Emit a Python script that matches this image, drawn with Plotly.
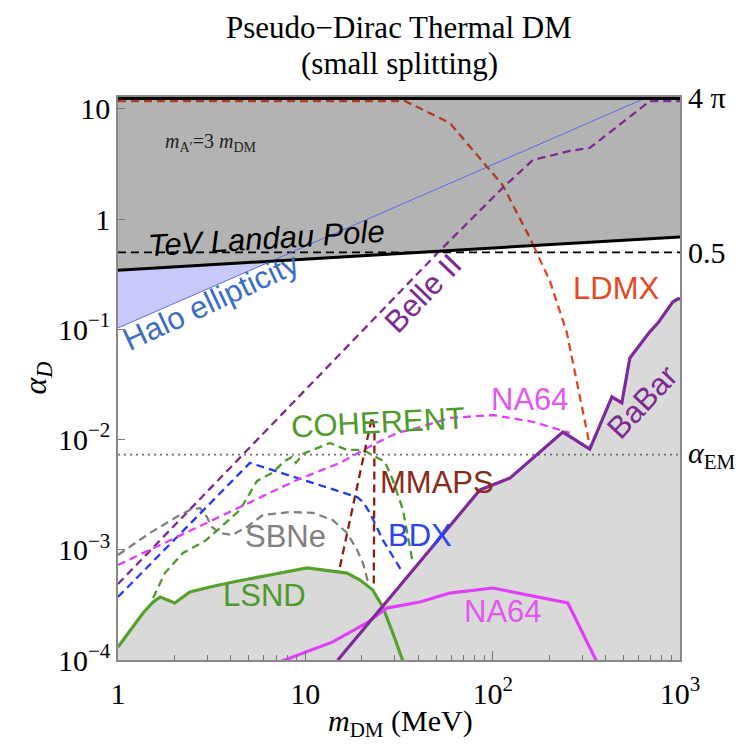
import numpy as np
import plotly.graph_objects as go

# ---------------- data ----------------
four_pi = 4 * np.pi
alpha_em = 1 / 137.036
half = 0.5

landau_x = [1, 1000]
landau_y = [0.344, 0.69]

halo_x = [1, 655]
halo_y = [0.103, 12.57]

ldmx_x = [1, 34, 59, 100, 113, 158, 202, 249, 330]
ldmx_y = [11.8, 11.8, 7.46, 2.62, 2.04, 0.675, 0.275, 0.093, 0.0088]

belle_x = [1, 52, 113, 164, 258, 330, 692, 1000]
belle_y = [4.9e-4, 0.514, 1.92, 3.44, 4.16, 4.43, 11.8, 11.8]

na64d_x = [1, 9.02, 15.3, 22.9, 30.8, 39.4, 59, 100, 164, 258]
na64d_y = [7.28e-4, 4.30e-3, 6.14e-3, 8.93e-3, 0.0115, 0.0127, 0.0157, 0.0167, 0.0145, 0.0115]

coh_x = [1.54, 1.78, 2.22, 2.91, 3.59, 4.48, 5.52, 6.63, 7.78, 8.48, 8.91, 9.71,
         13.5, 16.7, 20.3, 22.9, 26.6, 29.3, 33.2, 37.5]
coh_y = [3.65e-4, 6.15e-4, 9.35e-4, 1.20e-3, 1.64e-3, 2.30e-3, 4.21e-3, 4.97e-3,
         6.39e-3, 6.95e-3, 6.14e-3, 7.40e-3, 9.31e-3, 8.05e-3, 8.05e-3, 7.24e-3,
         6.27e-3, 4.30e-3, 2.30e-3, 7.59e-4]

bdx_x = [1, 5.06, 18.9, 20.3, 22.1, 25.9, 33.2]
bdx_y = [3.73e-4, 6.14e-3, 3.01e-3, 2.72e-3, 2.16e-3, 1.23e-3, 6.16e-4]

sbne_x = [1, 1.48, 2.06, 2.42, 2.74, 2.98, 3.17, 3.50, 4.06, 4.88, 5.94, 8.27,
          11.0, 14.0, 16.7, 18.9, 20.3, 21.6]
sbne_y = [8.97e-4, 1.42e-3, 1.99e-3, 2.30e-3, 2.39e-3, 1.99e-3, 1.61e-3, 1.42e-3,
          1.36e-3, 1.61e-3, 2.07e-3, 2.20e-3, 2.16e-3, 1.86e-3, 1.42e-3, 9.96e-4,
          7.59e-4, 5.1e-4]

mmaps_x = [15.3, 22.7, 23.4, 23.2]
mmaps_y = [6.98e-4, 0.0160, 0.0125, 4.8e-4]

lsnd_x = [1, 1.16, 1.36, 1.54, 1.68, 2.01, 2.42, 3.10, 4.11, 6.47, 10.2, 16.7,
          19.6, 22.9, 25.9, 29.3, 33.2, 34.8]
lsnd_y = [1.31e-4, 1.87e-4, 2.67e-4, 3.36e-4, 3.73e-4, 3.29e-4, 4.14e-4, 4.60e-4,
          5.10e-4, 5.91e-4, 6.84e-4, 6.15e-4, 5.32e-4, 4.32e-4, 3.03e-4, 1.76e-4,
          1.0e-4, 7.8e-5]

na64s_x = [7.05, 14.0, 21.3, 27.2, 40.9, 59, 100, 252, 360]
na64s_y = [9.4e-5, 1.46e-4, 2.17e-4, 2.96e-4, 3.36e-4, 4.05e-4, 4.50e-4, 3.29e-4, 9.6e-5]

babar_x = [14.9, 85.5, 124, 237, 330, 433, 489, 540, 690, 762, 915, 973, 1000]
babar_y = [1.0e-4, 3.49e-3, 4.49e-3, 0.0117, 0.0082, 0.0244, 0.0215, 0.055, 0.095,
           0.114, 0.177, 0.189, 0.189]

x_tickvals = [1, 10, 100, 1000]
x_ticktext = ["1", "10", "10<sup>2</sup>", "10<sup>3</sup>"]
y_tickvals = [1e-4, 1e-3, 1e-2, 1e-1, 1, 10]
y_ticktext = ["10<sup>\u22124</sup>", "10<sup>\u22123</sup>", "10<sup>\u22122</sup>",
              "10<sup>\u22121</sup>", "1", "10"]

# label texts and positions (data units)
labels = [
    ("TeV Landau Pole", 6.24, 0.665, -3.5, "black", True),
    ("Halo ellipticity", 3.15, 0.18, -25, "#3b6dc4", False),
    ("Belle II", 42.5, 0.21, -46, "#7d2a92", False),
    ("LDMX", 454, 0.233, 0, "#e5491f", False),
    ("BaBar", 625, 0.0219, -47, "#7d2a92", False),
    ("NA64", 158, 0.0229, 0, "#e356f0", False),
    ("COHERENT", 24.4, 0.0144, -3, "#4e9a2a", False),
    ("MMAPS", 50.4, 0.00412, 0, "#8b2a1a", False),
    ("BDX", 40.9, 0.00136, 0, "#2a45f0", False),
    ("SBNe", 7.88, 0.00131, 0, "#808080", False),
    ("LSND", 6.09, 3.81e-4, 0, "#4e9a2a", False),
    ("NA64", 113, 2.73e-4, 0, "#e356f0", False),
]

SANS = "Liberation Sans, Arial, sans-serif"
SERIF = "Liberation Serif, Times New Roman, serif"

floor = 5e-5

fig = go.Figure()

# ---------------- filled regions ----------------
fig.add_trace(go.Scatter(x=lsnd_x + [lsnd_x[-1], lsnd_x[0]], y=lsnd_y + [floor, floor],
                         fill="toself", fillcolor="#d9d9d9", mode="none", hoverinfo="skip"))
fig.add_trace(go.Scatter(x=babar_x + [babar_x[-1], babar_x[0]], y=babar_y + [floor, floor],
                         fill="toself", fillcolor="#d9d9d9", mode="none", hoverinfo="skip"))

lx_l, ly_l = np.log10(landau_x), np.log10(landau_y)
lx_h, ly_h = np.log10(halo_x), np.log10(halo_y)
sl = (ly_l[1] - ly_l[0]) / (lx_l[1] - lx_l[0])
sh = (ly_h[1] - ly_h[0]) / (lx_h[1] - lx_h[0])
t_int = (ly_l[0] - ly_h[0]) / (sh - sl)
x_int = 10 ** t_int
y_int = 10 ** (ly_l[0] + sl * t_int)

fig.add_trace(go.Scatter(x=[landau_x[0], x_int, halo_x[0]], y=[landau_y[0], y_int, halo_y[0]],
                         fill="toself", fillcolor="#c8c9f8", mode="none", hoverinfo="skip"))

fig.add_trace(go.Scatter(x=[landau_x[0], landau_x[1], landau_x[1], landau_x[0]],
                         y=[landau_y[0], landau_y[1], four_pi, four_pi],
                         fill="toself", fillcolor="#b3b3b3", mode="none", hoverinfo="skip"))

# ---------------- reference lines ----------------
fig.add_trace(go.Scatter(x=[1, 1000], y=[alpha_em, alpha_em], mode="lines",
                         line=dict(color="#707070", width=1.6, dash="2px,4px")))
fig.add_trace(go.Scatter(x=[1, 1000], y=[half, half], mode="lines",
                         line=dict(color="black", width=1.8, dash="8px,5px")))
fig.add_trace(go.Scatter(x=halo_x, y=halo_y, mode="lines",
                         line=dict(color="#5b6de8", width=1)))


def split_at_landau(xs, ys):
    lx = np.log10(xs)
    ly = np.log10(ys)
    land = np.interp(lx, lx_l, ly_l)
    d = ly - land
    i = int(np.where(np.sign(d[:-1]) != np.sign(d[1:]))[0][0])
    t = d[i] / (d[i] - d[i + 1])
    cx = lx[i] + t * (lx[i + 1] - lx[i])
    cy = ly[i] + t * (ly[i + 1] - ly[i])
    up = (10 ** np.r_[lx[:i + 1], cx], 10 ** np.r_[ly[:i + 1], cy])
    lo = (10 ** np.r_[cx, lx[i + 1:]], 10 ** np.r_[cy, ly[i + 1:]])
    return up, lo


ld_up, ld_lo = split_at_landau(ldmx_x, ldmx_y)

DASH = "8px,5px"
DW = 2.3
fig.add_trace(go.Scatter(x=ld_up[0], y=ld_up[1], mode="lines",
                         line=dict(color="#b23a22", width=DW, dash=DASH)))
fig.add_trace(go.Scatter(x=ld_lo[0], y=ld_lo[1], mode="lines",
                         line=dict(color="#e4441c", width=DW, dash=DASH)))
fig.add_trace(go.Scatter(x=belle_x, y=belle_y, mode="lines",
                         line=dict(color="#7a2a90", width=DW, dash=DASH)))
fig.add_trace(go.Scatter(x=sbne_x, y=sbne_y, mode="lines",
                         line=dict(color="#808080", width=DW, dash=DASH)))
fig.add_trace(go.Scatter(x=bdx_x, y=bdx_y, mode="lines",
                         line=dict(color="#1f3cf2", width=DW, dash=DASH)))
fig.add_trace(go.Scatter(x=coh_x, y=coh_y, mode="lines",
                         line=dict(color="#4e9a2a", width=DW, dash=DASH)))
fig.add_trace(go.Scatter(x=na64d_x, y=na64d_y, mode="lines",
                         line=dict(color="#e040f5", width=DW, dash=DASH)))
fig.add_trace(go.Scatter(x=mmaps_x, y=mmaps_y, mode="lines",
                         line=dict(color="#8b1e0e", width=DW, dash=DASH)))

fig.add_trace(go.Scatter(x=lsnd_x, y=lsnd_y, mode="lines",
                         line=dict(color="#56a12c", width=3.2)))
fig.add_trace(go.Scatter(x=na64s_x, y=na64s_y, mode="lines",
                         line=dict(color="#e040f5", width=3.2)))
fig.add_trace(go.Scatter(x=babar_x, y=babar_y, mode="lines",
                         line=dict(color="#7f2a9c", width=3.2)))

fig.add_trace(go.Scatter(x=landau_x, y=landau_y, mode="lines",
                         line=dict(color="black", width=3)))
fig.add_trace(go.Scatter(x=[1, 1000], y=[four_pi, four_pi], mode="lines",
                         line=dict(color="black", width=4)))

# ---------------- annotations ----------------
ann = []
for text, lx, ly, ang, col, ital in labels:
    ann.append(dict(x=np.log10(lx), y=np.log10(ly), xref="x", yref="y",
                    text=("<i>" + text + "</i>") if ital else text,
                    showarrow=False, textangle=ang,
                    font=dict(family=SANS, size=31, color=col)))

ann.append(dict(x=np.log10(3.1), y=np.log10(5.0), xref="x", yref="y",
                text="<i>m</i><sub>A\u2032</sub>=3 <i>m</i><sub>DM</sub>", showarrow=False,
                font=dict(family=SERIF, size=20, color="#222")))

for txt, yv in [("4 \u03c0", four_pi), ("0.5", half), ("<i>\u03b1</i><sub>EM</sub>", alpha_em)]:
    ann.append(dict(x=1.010, y=np.log10(yv), xref="paper", yref="y", text=txt,
                    xanchor="left", yanchor="middle", showarrow=False,
                    font=dict(family=SERIF, size=30, color="black")))

ann.append(dict(x=0.5, y=(660 - 29) / 562, xref="paper", yref="paper",
                text="Pseudo\u2212Dirac Thermal DM", showarrow=False, yanchor="middle",
                font=dict(family=SERIF, size=31, color="black")))
ann.append(dict(x=0.5, y=(660 - 65) / 562, xref="paper", yref="paper",
                text="(small splitting)", showarrow=False, yanchor="middle",
                font=dict(family=SERIF, size=31, color="black")))

ann.append(dict(x=0.502, y=(660 - 723) / 562, xref="paper", yref="paper",
                text="<i>m</i><sub>DM</sub> (MeV)", showarrow=False, yanchor="middle",
                font=dict(family=SERIF, size=30, color="black")))
ann.append(dict(x=(37 - 118) / 562, y=0.5, xref="paper", yref="paper",
                text="<i>\u03b1</i><sub><i>D</i></sub>", showarrow=False, textangle=-90,
                xanchor="center", yanchor="middle",
                font=dict(family=SERIF, size=32, color="black")))

minor_x = [m * 10 ** e for e in range(0, 3) for m in range(2, 10)]

fig.update_layout(
    width=749, height=747,
    margin=dict(l=118, r=69, t=97, b=87),
    paper_bgcolor="white", plot_bgcolor="white",
    showlegend=False,
    annotations=ann,
    xaxis=dict(type="log", range=[0, 3], tickvals=x_tickvals, ticktext=x_ticktext,
               ticks="inside", ticklen=9, tickcolor="#777", tickwidth=1,
               showline=True, linecolor="#888", linewidth=1.5, mirror=True,
               showgrid=False, zeroline=False, ticklabelstandoff=6,
               tickfont=dict(family=SERIF, size=30, color="black"),
               minor=dict(tickvals=minor_x, ticks="inside", ticklen=5,
                          tickcolor="#777", showgrid=False)),
    yaxis=dict(type="log", range=[-4, np.log10(four_pi) + 0.009],
               tickvals=y_tickvals, ticktext=y_ticktext,
               ticks="inside", ticklen=7, tickcolor="#777", tickwidth=1,
               showline=True, linecolor="#888", linewidth=1.5, mirror=True,
               showgrid=False, zeroline=False,
               tickfont=dict(family=SERIF, size=30, color="black")),
)

fig.write_html("out.html")
